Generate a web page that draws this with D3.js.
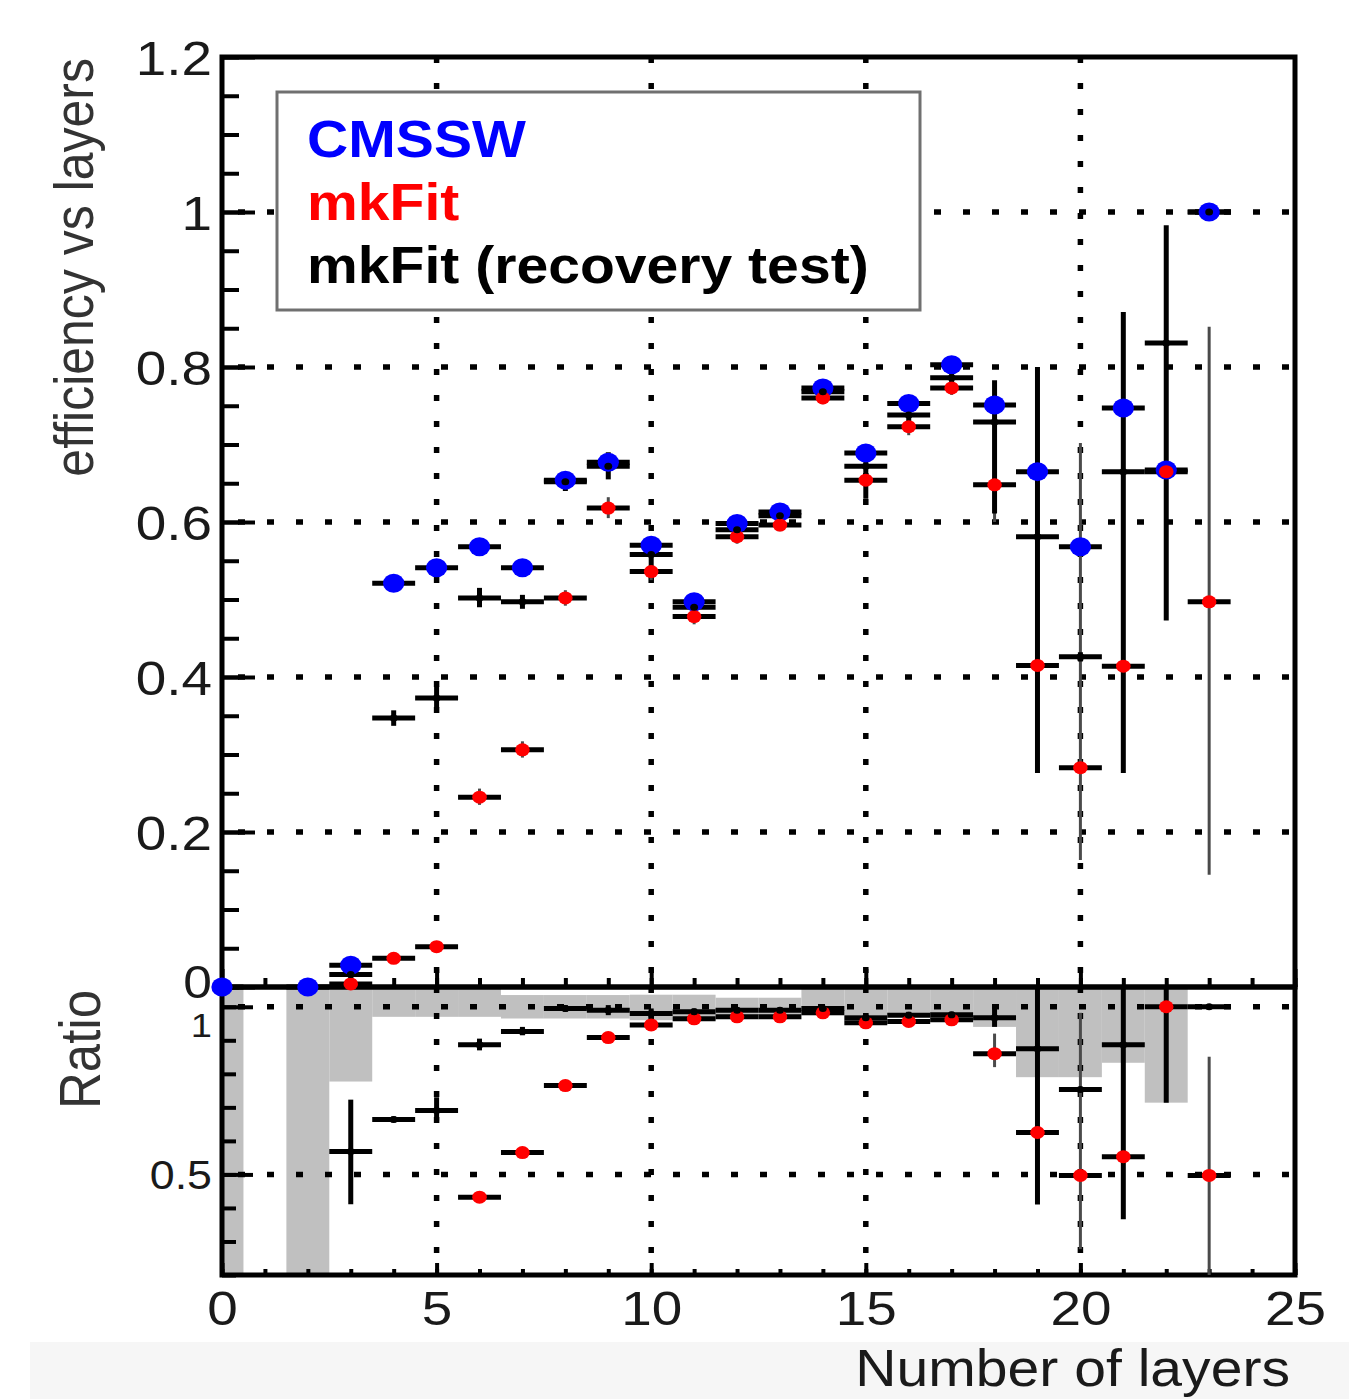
<!DOCTYPE html>
<html>
<head>
<meta charset="utf-8">
<script src="https://cdn.jsdelivr.net/npm/d3@7/dist/d3.min.js"></script>
<style>
  body { margin: 0; background: #fff; }
  svg { display: block; }
  text { font-family: "Liberation Sans", Arial, Helvetica, sans-serif; }
</style>
</head>
<body>
<svg id="chart" width="1349" height="1399"></svg>
<script>
// ---- data: efficiency per number of layers (bin centres 0..23) ----
const layers = [0, 1, 2, 3, 4, 5, 6, 7, 8, 9, 10, 11, 12, 13, 14, 15, 16, 17, 18, 19, 20, 21, 22, 23];

const cmssw = [0, null, 0, 0.028, 0.521, 0.541, 0.568, 0.541, 0.654, 0.677, 0.570, 0.497,
  0.598, 0.613, 0.773, 0.689, 0.753, 0.803, 0.751, 0.665, 0.568, 0.747, 0.667, 1.0];

const mkfit = [null, null, null, 0.004, 0.037, 0.052, 0.245, 0.306, 0.502, 0.618, 0.536, 0.478,
  0.581, 0.596, 0.760, 0.654, 0.723, 0.773, 0.648, 0.415, 0.283, 0.414, 0.665, 0.497];
const mkfitLo = [null, null, null, 0.0, 0.032, 0.046, 0.235, 0.296, 0.492, 0.605, 0.525, 0.468,
  0.572, 0.588, 0.752, 0.640, 0.712, 0.764, 0.600, 0.300, 0.164, 0.300, 0.500, 0.145];
const mkfitHi = [null, null, null, 0.012, 0.043, 0.058, 0.256, 0.317, 0.512, 0.632, 0.547, 0.488,
  0.590, 0.604, 0.768, 0.668, 0.734, 0.782, 0.700, 0.550, 0.702, 0.550, 0.800, 0.852];

const recovery = [null, null, null, 0.016, 0.347, 0.373, 0.502, 0.497, 0.652, 0.672, 0.558, 0.490,
  0.590, 0.608, 0.768, 0.672, 0.738, 0.786, 0.729, 0.581, 0.426, 0.665, 0.831, 1.0];
const recoveryLo = [null, null, null, 0.006, 0.337, 0.360, 0.490, 0.488, 0.640, 0.655, 0.540, 0.480,
  0.580, 0.600, 0.760, 0.630, 0.720, 0.770, 0.611, 0.276, 0.420, 0.276, 0.473, 1.0];
const recoveryHi = [null, null, null, 0.028, 0.357, 0.388, 0.515, 0.506, 0.664, 0.690, 0.576, 0.500,
  0.600, 0.617, 0.776, 0.700, 0.760, 0.800, 0.783, 0.800, 0.432, 0.871, 0.983, 1.0];

// ---- ratio to CMSSW ----
const ratioMkfit = [null, null, null, null, null, null, 0.432, 0.565, 0.765, 0.908, 0.946, 0.964,
  0.970, 0.970, 0.982, 0.952, 0.956, 0.961, 0.860, 0.625, 0.497, 0.553, 1.0, 0.497];
const ratioMkfitLo = [null, null, null, null, null, null, 0.420, 0.555, 0.755, 0.898, 0.935, 0.955,
  0.962, 0.962, 0.975, 0.940, 0.946, 0.952, 0.820, 0.550, 0.277, 0.500, 0.900, 0.100];
const ratioMkfitHi = [null, null, null, null, null, null, 0.445, 0.575, 0.775, 0.918, 0.958, 0.973,
  0.978, 0.978, 0.990, 0.964, 0.966, 0.970, 0.920, 0.700, 0.982, 0.600, 1.100, 0.851];

const ratioRecovery = [null, null, null, 0.568, 0.664, 0.691, 0.887, 0.926, 0.995, 0.990, 0.980, 0.985,
  0.990, 0.990, 0.995, 0.967, 0.975, 0.976, 0.967, 0.875, 0.753, 0.887, 1.25, 1.0];
const ratioRecoveryLo = [null, null, null, 0.411, 0.655, 0.660, 0.870, 0.915, 0.985, 0.975, 0.965, 0.975,
  0.982, 0.982, 0.990, 0.955, 0.965, 0.967, 0.940, 0.410, 0.745, 0.366, 0.714, 1.0];
const ratioRecoveryHi = [null, null, null, 0.723, 0.673, 0.730, 0.905, 0.940, 1.005, 1.005, 0.995, 0.995,
  0.998, 0.998, 1.000, 0.980, 0.985, 0.985, 1.000, 1.200, 0.760, 1.200, 1.800, 1.0];

// CMSSW uncertainty band around 1
const bandLo = [0, null, 0, 0.777, 0.970, 0.970, 0.970, 0.965, 0.965, 0.965, 0.960, 0.960,
  0.975, 0.975, 0.975, 0.975, 0.975, 0.975, 0.940, 0.790, 0.790, 0.833, 0.714, null];
const bandHi = [2, null, 2, 1.223, 1.060, 1.060, 1.060, 1.035, 1.035, 1.035, 1.036, 1.036,
  1.027, 1.027, 1.060, 1.060, 1.060, 1.060, 1.060, 1.210, 1.210, 1.167, 1.286, null];

const legendLabels = ["CMSSW", "mkFit", "mkFit (recovery test)"];
const yTickValues = [0, 0.2, 0.4, 0.6, 0.8, 1, 1.2];
const ratioTickValues = [0.5, 1];
const xTickValues = [0, 5, 10, 15, 20, 25];
const xTitle = "Number of layers";
const yTitle = "efficiency vs layers";
const ratioTitle = "Ratio";

// ---- layout ----
const SX = 1.12;               // horizontal glyph stretch
const BLUE = "#0000ff", RED = "#ff0000";
const svg = d3.select("#chart");
const L = 222, R = 1295, T = 57, MID = 987, B = 1275;

const x = d3.scaleLinear().domain([0, 25]).range([L, R]);
const yTop = d3.scaleLinear().domain([0, 1.2]).range([MID, T]);
const yRat = d3.scaleLinear().domain([0.2, 1.056]).range([B, MID + 1]);

svg.append("rect").attr("width", 1349).attr("height", 1399).attr("fill", "#fff");
svg.append("rect").attr("x", 30).attr("y", 1342).attr("width", 1319).attr("height", 57).attr("fill", "#f6f6f6");

const defs = svg.append("defs");
defs.append("clipPath").attr("id", "clipTop").append("rect")
  .attr("x", L).attr("y", T).attr("width", R - L).attr("height", MID - T + 3);
defs.append("clipPath").attr("id", "clipRat").append("rect")
  .attr("x", L).attr("y", MID + 2).attr("width", R - L).attr("height", B - MID - 2);

function stretchedText(g, px, py, txt, size, anchor, extra) {
  return g.append("text")
    .attr("transform", `translate(${px},${py}) scale(${SX},1)` + (extra || ""))
    .attr("text-anchor", anchor)
    .attr("font-size", size)
    .text(txt);
}

// ---- ratio band ----
const gBand = svg.append("g").attr("clip-path", "url(#clipRat)");
gBand.selectAll("rect").data(layers.filter(i => bandLo[i] !== null)).join("rect")
  .attr("x", i => x(i - 0.5)).attr("width", i => x(i + 0.5) - x(i - 0.5))
  .attr("y", i => yRat(bandHi[i])).attr("height", i => yRat(bandLo[i]) - yRat(bandHi[i]))
  .attr("fill", "#c0c0c0");

// ---- grids ----
const gGrid = svg.append("g").attr("stroke", "#000").attr("stroke-width", 5.5).attr("fill", "none");
const gridX = [5, 10, 15, 20];
gGrid.selectAll("line.vt").data(gridX).join("line").attr("class", "vt")
  .attr("x1", d => x(d)).attr("x2", d => x(d)).attr("y1", T).attr("y2", MID)
  .attr("stroke-dasharray", "6,20");
gGrid.selectAll("line.vr").data(gridX).join("line").attr("class", "vr")
  .attr("x1", d => x(d)).attr("x2", d => x(d)).attr("y1", MID).attr("y2", B)
  .attr("stroke-dasharray", "6,20");
gGrid.selectAll("line.ht").data(yTickValues.filter(v => v > 0 && v < 1.2)).join("line").attr("class", "ht")
  .attr("x1", L).attr("x2", R).attr("y1", d => yTop(d)).attr("y2", d => yTop(d))
  .attr("stroke-dasharray", "7,22").attr("stroke-dashoffset", -16);
gGrid.selectAll("line.hr").data(ratioTickValues).join("line").attr("class", "hr")
  .attr("x1", L).attr("x2", R).attr("y1", d => yRat(d)).attr("y2", d => yRat(d))
  .attr("stroke-dasharray", "7,22").attr("stroke-dashoffset", -16);

// ---- legend ----
const gLeg = svg.append("g");
gLeg.append("rect").attr("x", 277).attr("y", 92).attr("width", 643).attr("height", 218)
  .attr("fill", "#fff").attr("stroke", "#707070").attr("stroke-width", 3);
const legColors = [BLUE, RED, "#000"];
legendLabels.forEach((lab, k) => {
  stretchedText(gLeg, 307, 157 + k * 63, lab, 51, "start")
    .attr("font-weight", "bold").attr("fill", legColors[k]);
});

// ---- axes & ticks ----
function styleAxis(g) {
  g.select(".domain").remove();
  g.selectAll("line").attr("stroke", "#000").attr("stroke-width", 4);
}
// top panel, left
svg.append("g").attr("transform", `translate(${L},0)`)
  .call(d3.axisLeft(yTop).ticks(24).tickSize(-17).tickFormat(""))
  .call(styleAxis);
const gyl = svg.append("g").attr("transform", `translate(${L},0)`)
  .call(d3.axisLeft(yTop).tickValues(yTickValues).tickSize(-33).tickFormat(d3.format("~g")))
  .call(styleAxis);
gyl.selectAll("text").attr("x", null).attr("dy", null)
  .attr("transform", d => `translate(-10,${d === 0 ? 10 : 17}) scale(${SX},1)`)
  .attr("font-size", d => d === 0 ? 46 : 49).attr("fill", "#1a1a1a").attr("text-anchor", "end");

// top panel, bottom (ticks point up)
svg.append("g").attr("transform", `translate(0,${MID})`)
  .call(d3.axisBottom(x).ticks(25).tickSize(-9).tickFormat(""))
  .call(styleAxis);
svg.append("g").attr("transform", `translate(0,${MID})`)
  .call(d3.axisBottom(x).tickValues(xTickValues).tickSize(-18).tickFormat(""))
  .call(styleAxis);

// ratio panel, left
svg.append("g").attr("transform", `translate(${L},0)`)
  .call(d3.axisLeft(yRat).tickValues(d3.range(2, 11).map(v => v / 10)).tickSize(-14).tickFormat(""))
  .call(styleAxis);
const grl = svg.append("g").attr("transform", `translate(${L},0)`)
  .call(d3.axisLeft(yRat).tickValues(ratioTickValues).tickSize(-31).tickFormat(d3.format("~g")))
  .call(styleAxis);
grl.selectAll("text").attr("x", null).attr("dy", null)
  .attr("transform", d => `translate(-10,${d === 1 ? 30 : 14}) scale(${SX},1)`)
  .attr("font-size", d => d === 1 ? 34 : 40).attr("fill", "#1a1a1a").attr("text-anchor", "end");

// ratio panel, bottom
svg.append("g").attr("transform", `translate(0,${B})`)
  .call(d3.axisBottom(x).ticks(25).tickSize(-6).tickFormat(""))
  .call(styleAxis);
const gxb = svg.append("g").attr("transform", `translate(0,${B})`)
  .call(d3.axisBottom(x).tickValues(xTickValues).tickSize(-12).tickFormat(d3.format("d")))
  .call(styleAxis);
gxb.selectAll("text").attr("y", null).attr("dy", null)
  .attr("transform", `translate(0,50) scale(${SX},1)`)
  .attr("font-size", 49).attr("fill", "#1a1a1a").attr("text-anchor", "middle");

// frames
const gFrame = svg.append("g").attr("fill", "none").attr("stroke", "#000").attr("stroke-width", 5);
gFrame.append("rect").attr("x", L).attr("y", T).attr("width", R - L).attr("height", MID - T);
gFrame.append("rect").attr("x", L).attr("y", MID).attr("width", R - L).attr("height", B - MID);

// titles
stretchedText(svg, 1290, 1386, xTitle, 51, "end").attr("fill", "#1a1a1a");
stretchedText(svg, 93, 58, yTitle, 50, "end", " rotate(-90)").attr("fill", "#333");
stretchedText(svg, 100, 990, ratioTitle, 51, "end", " rotate(-90)").attr("fill", "#333");

// ---- data marks ----
function hBars(g, yS, vals) {
  g.append("g").selectAll("line").data(layers.filter(i => vals[i] !== null)).join("line")
    .attr("x1", i => x(i - 0.5)).attr("x2", i => x(i + 0.5))
    .attr("y1", i => yS(vals[i])).attr("y2", i => yS(vals[i]))
    .attr("stroke", "#000").attr("stroke-width", 5);
}
function vBars(g, yS, vals, lo, hi, color, width) {
  g.append("g").selectAll("line").data(layers.filter(i => vals[i] !== null && lo[i] !== null)).join("line")
    .attr("x1", i => x(i)).attr("x2", i => x(i))
    .attr("y1", i => yS(lo[i])).attr("y2", i => yS(hi[i]))
    .attr("stroke", color).attr("stroke-width", width);
}
function markers(g, yS, vals, color, r) {
  g.append("g").selectAll("ellipse").data(layers.filter(i => vals[i] !== null)).join("ellipse")
    .attr("cx", i => x(i)).attr("cy", i => yS(vals[i]))
    .attr("rx", r * SX).attr("ry", r).attr("fill", color);
}

// top panel
const gTopBars = svg.append("g").attr("clip-path", "url(#clipTop)");
hBars(gTopBars, yTop, cmssw);
hBars(gTopBars, yTop, mkfit);
vBars(gTopBars, yTop, mkfit, mkfitLo, mkfitHi, "#4a4a4a", 3);
hBars(gTopBars, yTop, recovery);
vBars(gTopBars, yTop, recovery, recoveryLo, recoveryHi, "#000", 5);
const gTopMk = svg.append("g");
markers(gTopMk, yTop, cmssw, BLUE, 9.5);
markers(gTopMk, yTop, mkfit, RED, 6.5);
markers(gTopMk, yTop, recovery, "#000", 3.5);

// ratio panel
const gRat = svg.append("g").attr("clip-path", "url(#clipRat)");
hBars(gRat, yRat, ratioMkfit);
vBars(gRat, yRat, ratioMkfit, ratioMkfitLo, ratioMkfitHi, "#4a4a4a", 3);
hBars(gRat, yRat, ratioRecovery);
vBars(gRat, yRat, ratioRecovery, ratioRecoveryLo, ratioRecoveryHi, "#000", 5);
markers(gRat, yRat, ratioMkfit, RED, 6.5);
markers(gRat, yRat, ratioRecovery, "#000", 3.5);
</script>
</body>
</html>
